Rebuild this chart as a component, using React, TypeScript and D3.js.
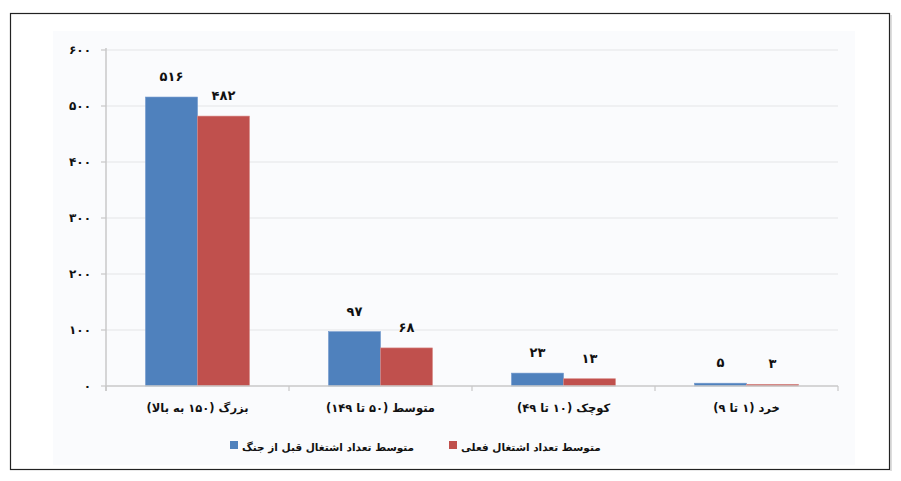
import React from 'react';
import * as d3 from 'd3';

// categories (left to right as in the picture)
const categories = ['بزرگ (۱۵۰ به بالا)', 'متوسط (۵۰ تا ۱۴۹)', 'کوچک (۱۰ تا ۴۹)', 'خرد (۱ تا ۹)'];
const seriesNames = ['متوسط تعداد اشتغال قبل از جنگ', 'متوسط تعداد اشتغال فعلی'];
const beforeWar = [516, 97, 23, 5];
const current = [482, 68, 13, 3];
const yTicks = [0, 100, 200, 300, 400, 500, 600];
const colors = ['#4f81bd', '#c0504d'];

const fa = (n: number) => String(n).replace(/\d/g, d => '۰۱۲۳۴۵۶۷۸۹'[+d]);

const W = 901;
const H = 481;
const FONT = '"DejaVu Sans", sans-serif';

const App = () => {
    const x = d3.scaleBand().domain(categories).range([106, 838]).paddingInner(0).paddingOuter(0);
    const inner = d3.scaleBand().domain(['0', '1']).range([0, x.bandwidth()]).paddingInner(0).paddingOuter(0.76);
    const y = d3.scaleLinear().domain([0, 600]).range([386, 50]);
    const series = [beforeWar, current];

    // legend: square on the left, text starts just right of it
    const legendSquares = [230, 449];

    return (
        <svg width={W} height={H} style={{ position: 'absolute', left: 0, top: 0, fontFamily: FONT }}>
            <rect x={0} y={0} width={W} height={H} fill="#fff" />
            <rect x={10.5} y={13.5} width={879} height={456} fill="#fff" stroke="#222" strokeWidth={1.2} />
            <line x1={891} y1={15} x2={891} y2={471} stroke="#bbb" strokeWidth={1} />
            <rect x={53} y={31} width={802} height={434} fill="#fafbfd" />

            {yTicks.map(t => (
                <g key={t}>
                    {t > 0 && <line x1={106} x2={838} y1={y(t)} y2={y(t)} stroke="#e3e5e8" strokeWidth={1.2} />}
                    <line x1={101} x2={106} y1={y(t)} y2={y(t)} stroke="#c8c8c8" strokeWidth={1.2} />
                    <text x={91} y={y(t) + 4} textAnchor="end" fontSize={12} fontWeight="bold" fill="#111">{fa(t)}</text>
                </g>
            ))}

            {categories.map((c, i) => (
                <g key={c}>
                    {series.map((s, j) => {
                        const bx = (x(c) as number) + (inner(String(j)) as number);
                        return (
                            <g key={j}>
                                <rect x={bx} y={y(s[i])} width={inner.bandwidth()} height={y(0) - y(s[i])}
                                    fill={colors[j]} stroke={j === 0 ? '#6f97cc' : '#d98a88'} strokeWidth={0.6} />
                                <text x={bx + inner.bandwidth() / 2} y={y(s[i]) - 16} textAnchor="middle"
                                    fontSize={13} fontWeight="bold" fill="#111">{fa(s[i])}</text>
                            </g>
                        );
                    })}
                    <text x={(x(c) as number) + x.bandwidth() / 2} y={412} textAnchor="middle" direction="rtl"
                        fontSize={11.5} fontWeight="bold" fill="#111">{c}</text>
                </g>
            ))}

            <line x1={106} x2={838} y1={y(0)} y2={y(0)} stroke="#c8c8c8" strokeWidth={1.5} />
            <line x1={106} x2={106} y1={48} y2={391} stroke="#c8c8c8" strokeWidth={1.5} />
            {[...categories.map(c => x(c) as number), 838].map((t, k) => (
                <line key={k} x1={t} x2={t} y1={386} y2={391} stroke="#c8c8c8" strokeWidth={1.2} />
            ))}

            {seriesNames.map((name, j) => (
                <g key={j}>
                    <rect x={legendSquares[j]} y={441} width={8} height={8} fill={colors[j]} />
                    <text x={legendSquares[j] + 12} y={451} textAnchor="end" direction="rtl"
                        fontSize={10.5} fontWeight="bold" fill="#111">{name}</text>
                </g>
            ))}
        </svg>
    );
};

export default App;
